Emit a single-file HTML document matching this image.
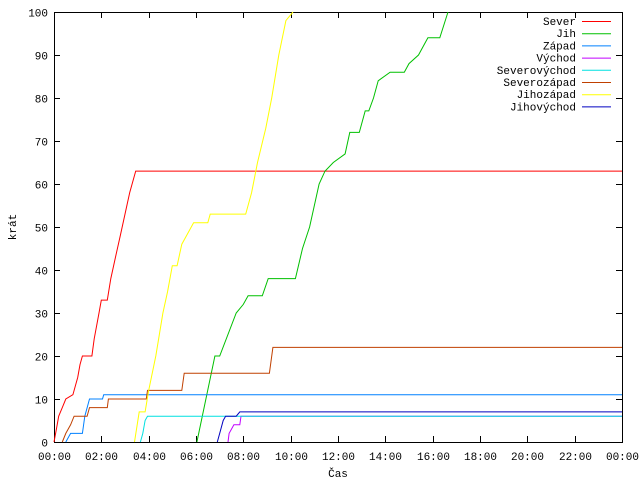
<!DOCTYPE html>
<html><head><meta charset="utf-8"><style>
body{margin:0;background:#fff}
svg text{font-family:"Liberation Mono","DejaVu Sans Mono",monospace;font-size:11px;fill:#000}
</style></head><body>
<svg id="chart" width="640" height="480" xmlns="http://www.w3.org/2000/svg"></svg>
<script>
const seriesNames=["Sever","Jih","Západ","Východ","Severovýchod","Severozápad","Jihozápad","Jihovýchod"];
const seriesColors=["#ff0000","#00c000","#0080ff","#c000ff","#00e0e0","#c04000","#ffff00","#0000c0"];
const sever=[[0,0],[0.1,3],[0.2,6],[0.35,8],[0.5,10],[0.8,11],[1.0,15],[1.1,18],[1.2,20],[1.6,20],[1.7,24],[1.9,30],[2.0,33],[2.25,33],[2.4,38],[2.6,43],[2.8,48],[3.0,53],[3.2,58],[3.45,63],[24,63]];
const jih=[[6.04,0],[6.8,20],[7.0,20],[7.7,30],[8.0,32],[8.2,34],[8.8,34],[9.05,38],[10.2,38],[10.5,45],[10.8,50],[11.2,60],[11.45,63],[11.8,65],[12.3,67],[12.5,72],[12.9,72],[13.15,77],[13.3,77],[13.5,80],[13.7,84],[14.2,86],[14.8,86],[15.0,88],[15.4,90],[15.8,94],[16.3,94],[16.65,100]];
const zapad=[[0.5,0],[0.7,2],[1.2,2],[1.3,6],[1.5,10],[2.05,10],[2.1,11],[24,11]];
const vychod=[[7.35,0],[7.4,2],[7.6,4],[7.85,4],[7.9,6],[24,6]];
const severovychod=[[3.65,0],[3.75,2],[3.85,5],[3.95,6],[24,6]];
const severozapad=[[0.35,0],[0.5,2],[0.7,4],[0.85,6],[1.4,6],[1.5,8],[2.25,8],[2.3,10],[3.9,10],[3.95,12],[5.4,12],[5.5,16],[9.1,16],[9.25,22],[24,22]];
const jihozapad=[[3.4,0],[3.6,7],[3.85,7],[4.0,12],[4.3,20],[4.6,30],[4.8,35],[5.0,41],[5.2,41],[5.4,46],[5.9,51],[6.5,51],[6.6,53],[8.1,53],[8.35,58],[8.6,65],[8.95,73],[9.2,80],[9.5,90],[9.8,98],[10.1,100]];
const jihovychod=[[6.9,0],[7.0,2],[7.15,5],[7.25,6],[7.7,6],[7.85,7],[24,7]];
const seriesData=[sever,jih,zapad,vychod,severovychod,severozapad,jihozapad,jihovychod];
const yTicks=[0,10,20,30,40,50,60,70,80,90,100];
const xTicks=[0,2,4,6,8,10,12,14,16,18,20,22,24];
const xTickLabels=["00:00","02:00","04:00","06:00","08:00","10:00","12:00","14:00","16:00","18:00","20:00","22:00","00:00"];
const L=54,R=622,T=12,B=442;
const X=h=>L+(R-L)*h/24, Y=v=>B-(B-T)*v/100;
const svg=document.getElementById('chart');
const NS="http://www.w3.org/2000/svg";
function mk(tag,attrs,parent){const e=document.createElementNS(NS,tag);for(const k in attrs)e.setAttribute(k,attrs[k]);(parent||svg).appendChild(e);return e;}
const frame=mk('rect',{x:L+0.5,y:T+0.5,width:R-L,height:B-T,fill:'none',stroke:'#000','stroke-width':1});


yTicks.forEach(v=>{
  const y=Math.round(Y(v))+0.5;
  const t=mk('path',{d:`M${L} ${y}h6M${R} ${y}h-6`,stroke:'#000'});
  
  
  const tx=mk('text',{x:L-6,y:y+4,'text-anchor':'end'});tx.textContent=v;
  
  
});
xTicks.forEach((h,i)=>{
  const x=Math.round(X(h))+0.5;
  const t=mk('path',{d:`M${x} ${B}v-6M${x} ${T}v6`,stroke:'#000'});
  
  
  const tx=mk('text',{x:x,y:B+18,'text-anchor':'middle'});tx.textContent=xTickLabels[i];
  
  
});
const xt=mk('text',{x:338,y:477,'text-anchor':'middle'});xt.textContent="Čas";


const yt=mk('text',{x:16,y:227,'text-anchor':'middle',transform:'rotate(-90 16 227)'});yt.textContent="krát";


seriesData.forEach((d,i)=>{
  const pts=d.map(p=>X(p[0]).toFixed(1)+','+Y(p[1]).toFixed(1)).join(' ');
  const pl=mk('polyline',{points:pts,fill:'none',stroke:seriesColors[i],'stroke-width':1});
  
  
  const ly=21+i*12.2;
  const lt=mk('text',{x:576,y:ly+4,'text-anchor':'end'});lt.textContent=seriesNames[i];
  
  
  const ll=mk('line',{x1:582,x2:611,y1:ly+0.5,y2:ly+0.5,stroke:seriesColors[i]});
  
  
});
</script>
</body></html>
